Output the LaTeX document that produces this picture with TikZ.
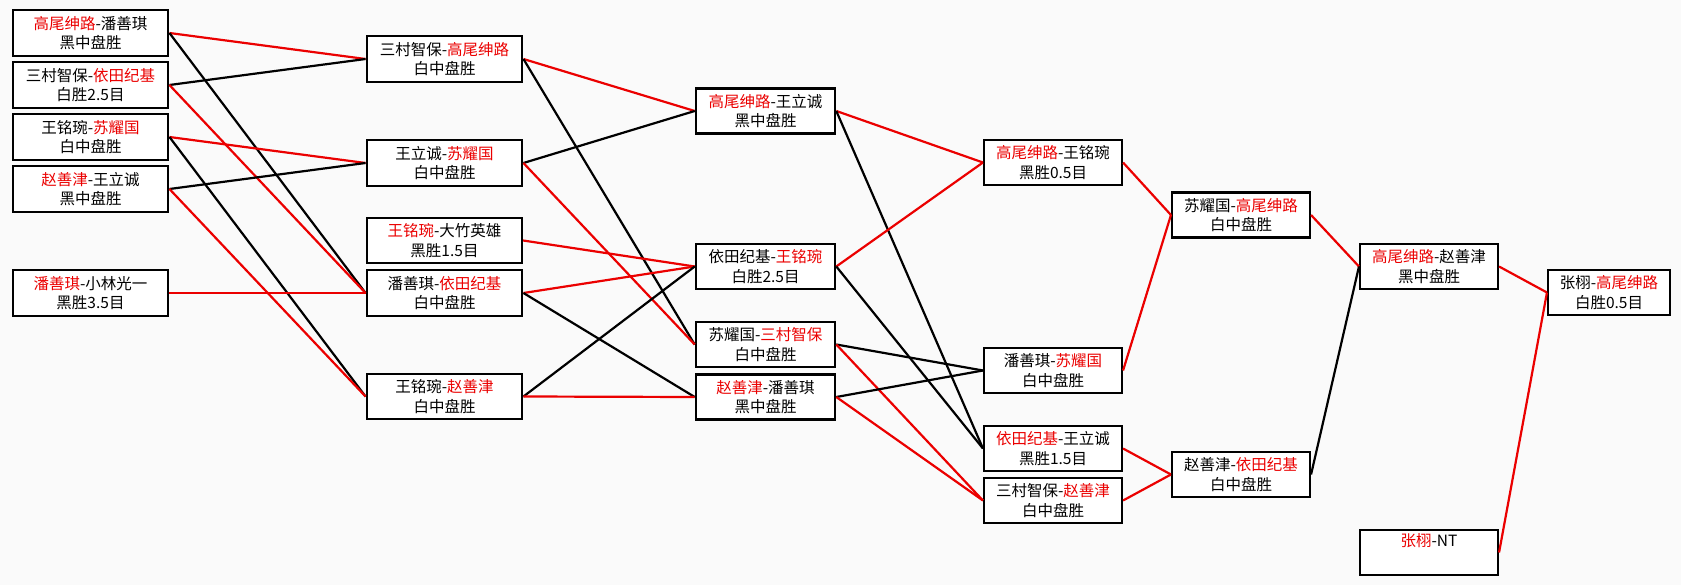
\documentclass[tikz,border=0pt]{standalone}
\usepackage{fontspec}
\newfontfamily\cjk{Noto Sans CJK SC}
\definecolor{lred}{RGB}{235,0,0}
\definecolor{bg}{RGB}{250,250,250}
\newcommand{\rd}[1]{\textcolor{lred}{#1}}
\tikzset{
  box/.style={draw=black, fill=white, line width=#1, rectangle, inner sep=0pt,
    align=center, font=\cjk\fontsize{15.5}{19.5}\selectfont, text=black},
  box/.default=2.4pt,
  win/.style={draw=lred, line width=2.2pt},
  lose/.style={draw=black, line width=2.2pt},
}
\begin{document}
\begin{tikzpicture}[x=1pt,y=-1pt]
\fill[bg] (0,0) rectangle (1681,585);
\useasboundingbox (0,0) rectangle (1681,585);
% column 1
\begin{scope}[every node/.append style={minimum width=155pt, minimum height=46pt}]
\node[box=2.9pt] (b1) at (90.5,33) {\rd{高尾绅路}-潘善琪\\黑中盘胜};
\node[box=2.9pt] (b2) at (90.5,85) {三村智保-\rd{依田纪基}\\白胜2.5目};
\node[box=2.9pt] (b3) at (90.5,137) {王铭琬-\rd{苏耀国}\\白中盘胜};
\node[box=2.9pt] (b4) at (90.5,189) {\rd{赵善津}-王立诚\\黑中盘胜};
\node[box=2.9pt] (b5) at (90.5,293) {\rd{潘善琪}-小林光一\\黑胜3.5目};
% column 2
\node[box=2.9pt] (A) at (444.5,59) {三村智保-\rd{高尾绅路}\\白中盘胜};
\node[box=2.9pt] (B) at (444.5,163) {王立诚-\rd{苏耀国}\\白中盘胜};
\node[box=2.2pt, minimum height=45pt] (C) at (444.5,240.5) {\rd{王铭琬}-大竹英雄\\黑胜1.5目};
\node[box=2.9pt] (D) at (444.5,293) {潘善琪-\rd{依田纪基}\\白中盘胜};
\node[box=2.9pt, minimum height=45pt] (E) at (444.5,396.5) {王铭琬-\rd{赵善津}\\白中盘胜};
\end{scope}
% column 3
\begin{scope}[every node/.append style={minimum width=139pt, minimum height=45pt}]
\node[box=2.6pt] (P1) at (765.5,111) {\rd{高尾绅路}-王立诚\\黑中盘胜};
\node[box=2.6pt] (P2) at (765.5,266.5) {依田纪基-\rd{王铭琬}\\白胜2.5目};
\node[box=2.6pt] (P3) at (765.5,344.5) {苏耀国-\rd{三村智保}\\白中盘胜};
\node[box=2.6pt] (P4) at (765.5,397) {\rd{赵善津}-潘善琪\\黑中盘胜};
\end{scope}
% columns 4-7
\begin{scope}[every node/.append style={minimum width=138pt, minimum height=45pt}]
\node[box=2.1pt] (Q1) at (1053,162.5) {\rd{高尾绅路}-王铭琬\\黑胜0.5目};
\node[box=2.1pt] (Q2) at (1053,370.5) {潘善琪-\rd{苏耀国}\\白中盘胜};
\node[box=2.1pt] (Q3) at (1053,448.5) {\rd{依田纪基}-王立诚\\黑胜1.5目};
\node[box=2.1pt] (Q4) at (1053,500.5) {三村智保-\rd{赵善津}\\白中盘胜};
\node[box=2.1pt] (R1) at (1241,215) {苏耀国-\rd{高尾绅路}\\白中盘胜};
\node[box=2.1pt] (R2) at (1241,474.5) {赵善津-\rd{依田纪基}\\白中盘胜};
\node[box=2.1pt] (S1) at (1429,266.5) {\rd{高尾绅路}-赵善津\\黑中盘胜};
\node[box=2.1pt] (S2) at (1429,552.5) {\rd{张栩}-NT\\\strut};
\node[box=2.1pt, minimum width=122pt] (T) at (1609,292.5) {张栩-\rd{高尾绅路}\\白胜0.5目};
\end{scope}
% connectors: column 1 -> 2
\draw[win] (b1.east) -- (A.west);
\draw[lose] (b1.east) -- (D.west);
\draw[lose] (b2.east) -- (A.west);
\draw[win] (b2.east) -- (D.west);
\draw[win] (b3.east) -- (B.west);
\draw[lose] (b3.east) -- (E.west);
\draw[lose] (b4.east) -- (B.west);
\draw[win] (b4.east) -- (E.west);
\draw[win] (b5.east) -- (D.west);
% column 2 -> 3
\draw[win] (A.east) -- (P1.west);
\draw[lose] (A.east) -- (P3.west);
\draw[lose] (B.east) -- (P1.west);
\draw[win] (B.east) -- (P3.west);
\draw[win] (C.east) -- (P2.west);
\draw[win] (D.east) -- (P2.west);
\draw[lose] (D.east) -- (P4.west);
\draw[lose] (E.east) -- (P2.west);
\draw[win] (E.east) -- (P4.west);
% column 3 -> 4
\draw[win] (P1.east) -- (Q1.west);
\draw[lose] (P1.east) -- (Q3.west);
\draw[win] (P2.east) -- (Q1.west);
\draw[lose] (P2.east) -- (Q3.west);
\draw[lose] (P3.east) -- (Q2.west);
\draw[win] (P3.east) -- (Q4.west);
\draw[lose] (P4.east) -- (Q2.west);
\draw[win] (P4.east) -- (Q4.west);
% column 4 -> 5
\draw[win] (Q1.east) -- (R1.west);
\draw[win] (Q2.east) -- (R1.west);
\draw[win] (Q3.east) -- (R2.west);
\draw[win] (Q4.east) -- (R2.west);
% column 5 -> 6 -> 7
\draw[win] (R1.east) -- (S1.west);
\draw[lose] (R2.east) -- (S1.west);
\draw[win] (S1.east) -- (T.west);
\draw[win] (S2.east) -- (T.west);
\end{tikzpicture}
\end{document}
